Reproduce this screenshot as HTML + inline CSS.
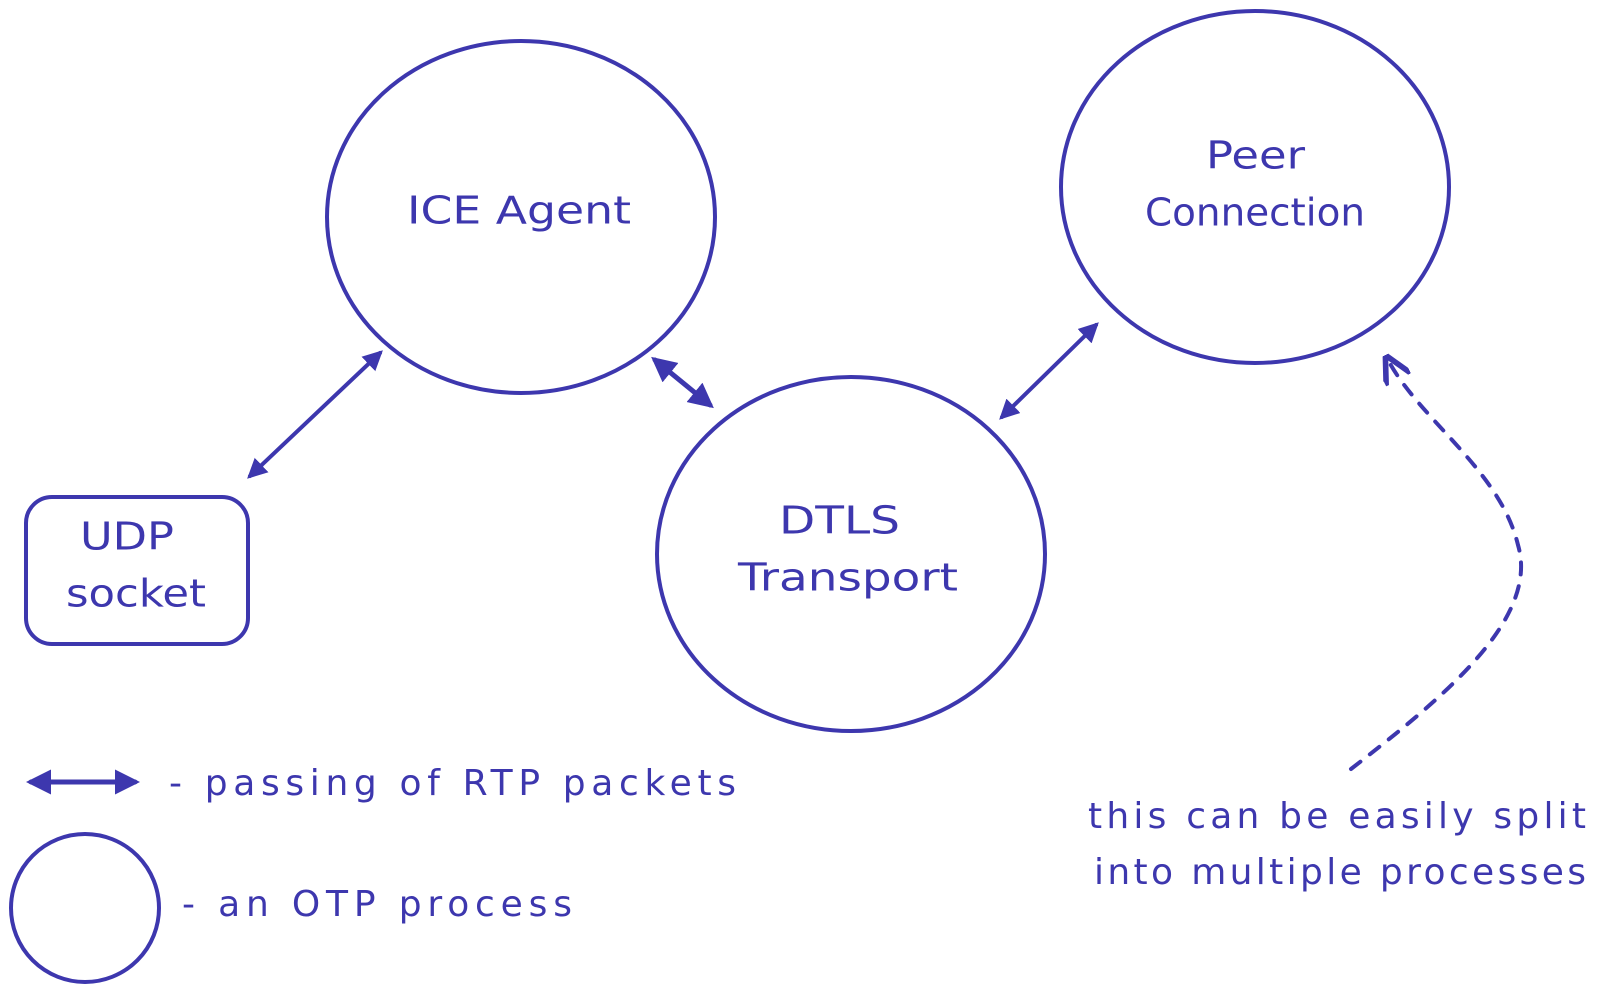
<!DOCTYPE html>
<html><head><meta charset="utf-8"><style>
html,body{margin:0;padding:0;background:#fff;}
svg text{font-family:"DejaVu Sans","Liberation Sans",sans-serif;fill:#3d37ae;dominant-baseline:middle;}
</style></head><body>
<svg width="1600" height="995" viewBox="0 0 1600 995" xmlns="http://www.w3.org/2000/svg">
<defs>
<marker id="ah" viewBox="0 0 10 10" refX="8" refY="5" markerWidth="5" markerHeight="5" orient="auto-start-reverse">
<path d="M0,0 L10,5 L0,10 z" fill="#3d37ae"/>
</marker>
<marker id="ao" viewBox="0 0 10 10" refX="8" refY="5" markerWidth="7" markerHeight="7" orient="auto">
<path d="M0,0 L10,5 L0,10" fill="none" stroke="#3d37ae" stroke-width="2"/>
</marker>
</defs>
<g fill="none" stroke="#3d37ae" stroke-width="4" stroke-linecap="round">
<ellipse cx="521" cy="217" rx="194" ry="176"/>
<ellipse cx="1255" cy="187" rx="194" ry="176"/>
<ellipse cx="851" cy="554" rx="194" ry="177"/>
<rect x="26" y="497" width="222" height="147" rx="26"/>
<circle cx="85" cy="908" r="74"/>
<line x1="250" y1="476" x2="380" y2="353" marker-start="url(#ah)" marker-end="url(#ah)"/>
<line x1="655" y1="360" x2="710" y2="405" marker-start="url(#ah)" marker-end="url(#ah)" stroke-width="5"/>
<line x1="1002" y1="417" x2="1096" y2="325" marker-start="url(#ah)" marker-end="url(#ah)"/>
<line x1="31" y1="782" x2="135" y2="782" marker-start="url(#ah)" marker-end="url(#ah)" stroke-width="5"/>
<path d="M1351,769 C1440,700 1540,620 1518,545 C1500,470 1420,420 1388,360" stroke-dasharray="12 12" marker-end="url(#ao)"/>
</g>
<g font-size="38" lengthAdjust="spacingAndGlyphs">
<text x="407" y="213" textLength="224" lengthAdjust="spacingAndGlyphs">ICE Agent</text>
<text x="1206" y="158" textLength="99" lengthAdjust="spacingAndGlyphs">Peer</text>
<text x="1145" y="215" textLength="220" lengthAdjust="spacingAndGlyphs">Connection</text>
<text x="779" y="523" textLength="121" lengthAdjust="spacingAndGlyphs">DTLS</text>
<text x="738" y="580" textLength="220" lengthAdjust="spacingAndGlyphs">Transport</text>
<text x="80" y="539" textLength="94" lengthAdjust="spacingAndGlyphs">UDP</text>
<text x="66" y="596" textLength="140" lengthAdjust="spacingAndGlyphs">socket</text>
</g>
<g font-size="36">
<text x="169" y="785" textLength="567">- passing of RTP packets</text>
<text x="182" y="906" textLength="390">- an OTP process</text>
<text x="1088" y="818" textLength="498">this can be easily split</text>
<text x="1094" y="874" textLength="492">into multiple processes</text>
</g>
</svg>
</body></html>
